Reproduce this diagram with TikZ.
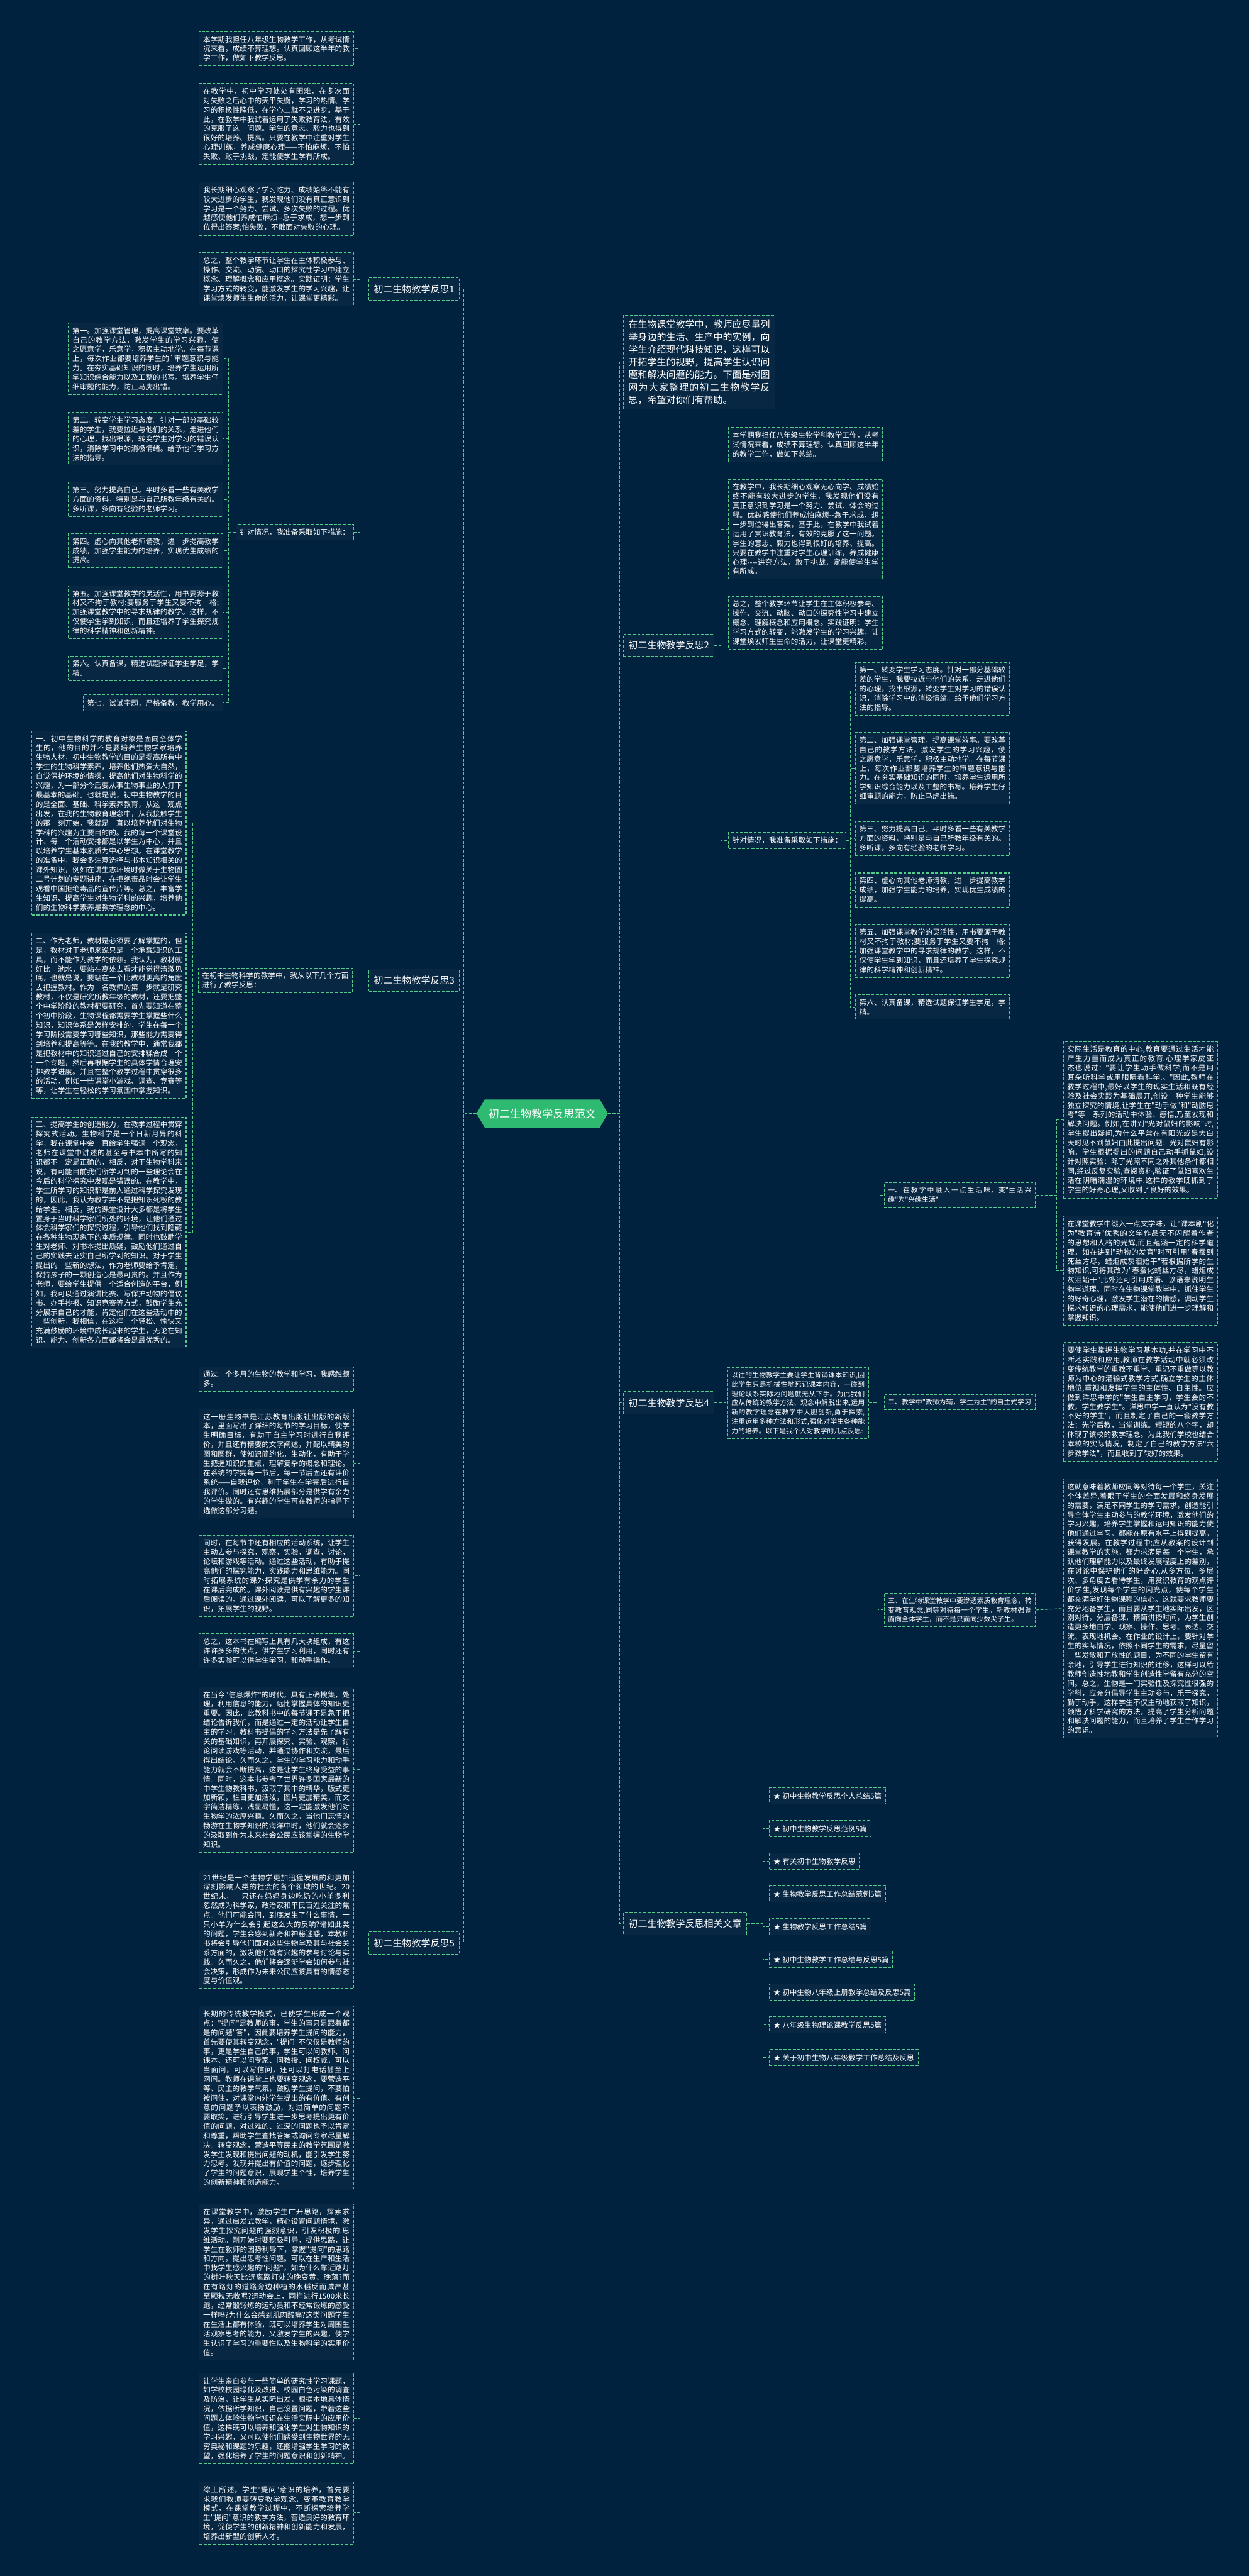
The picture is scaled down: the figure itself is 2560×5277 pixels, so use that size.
\documentclass[tikz,border=0pt]{standalone}
\usepackage{fontspec}
\setmainfont{Noto Sans CJK SC}[Ligatures=TeXOff]
\usepackage{tikz}
\usetikzlibrary{
  positioning,
  shapes.symbols,
  calc
}
\XeTeXlinebreaklocale "zh"
\XeTeXlinebreakskip=0pt plus 1pt
\setlength{\parindent}{0pt}
\definecolor{night}{RGB}{0,34,62}
\definecolor{cell}{RGB}{8,39,67}
\definecolor{mint}{RGB}{84,204,138}
\definecolor{leaf}{RGB}{46,186,112}
\newcommand{\bodyfont}{\fontsize{11.25pt}{14.4pt}\selectfont}
\newcommand{\smallbody}{\fontsize{10.5pt}{14.4pt}\selectfont}

\tikzset{
  note/.style={draw=mint, dash pattern=on 4.5pt off 2.5pt, line width=1pt, fill=cell, text=white, font=\bodyfont, text width=225pt, align=justify, inner xsep=6pt, inner ysep=6.5pt},
  stem/.style={draw=mint, dash pattern=on 4.5pt off 2.5pt, line width=1pt, fill=cell, text=white, font=\fontsize{14.5pt}{19.2pt}\selectfont, inner xsep=7.5pt, minimum height=34.5pt},
  tag/.style={draw=mint, dash pattern=on 4.5pt off 2.5pt, line width=1pt, fill=cell, text=white, font=\bodyfont, inner xsep=6pt, minimum height=24.75pt},
  link/.style={draw=mint, dash pattern=on 4.5pt off 2.5pt, line width=1pt}
}

\begin{document}
\begin{tikzpicture}[x=0.75pt, y=-0.75pt]
  \fill[night] (0,0) rectangle (2560,5277);
  \useasboundingbox (0,0) rectangle (2560,5277);

  % spines
  \coordinate (sL) at (950,0);
  \coordinate (sR) at (1270,0);
  \coordinate (sA) at (738,0);
  \coordinate (sB) at (468,0);
  \coordinate (sC) at (395,0);
  \coordinate (sF) at (1477,0);
  \coordinate (sG) at (1742,0);
  \coordinate (sM) at (1799,0);
  \coordinate (sI) at (2165,0);
  \coordinate (sK) at (1563,0);

  % root
  \node[signal, signal to=west and east, signal pointer angle=120, fill=leaf, text=white, font=\fontsize{16.5pt}{20pt}\selectfont, minimum height=43pt, inner xsep=6pt] (root) at (1111,2281) {初二生物教学反思范文};

  % left branches
  \node[stem, anchor=east] (b1) at (942,592) {初二生物教学反思1};
  \node[stem, anchor=east] (b3) at (942,2008) {初二生物教学反思3};
  \node[stem, anchor=east] (b5) at (942,3980) {初二生物教学反思5};

  % right branches
  \node[stem, anchor=west, text width=217.5pt, align=justify, inner ysep=7.5pt] (intro) at (1277,742) {在生物课堂教学中，教师应尽量列举身边的生活、生产中的实例，向学生介绍现代科技知识，这样可以开拓学生的视野，提高学生认识问题和解决问题的能力。下面是树图网为大家整理的初二生物教学反思，希望对你们有帮助。};
  \node[stem, anchor=west] (b2) at (1277,1322) {初二生物教学反思2};
  \node[stem, anchor=west] (b4) at (1277,2874) {初二生物教学反思4};
  \node[stem, anchor=west] (more) at (1277,3940) {初二生物教学反思相关文章};

  % reflection 1
  \node[note, anchor=east] (a1) at (725,100) {本学期我担任八年级生物教学工作，从考试情况来看，成绩不算理想。认真回顾这半年的教学工作，做如下教学反思。};
  \node[note, anchor=east] (a2) at (725,254) {在教学中，初中学习处处有困难，在多次面对失败之后心中的天平失衡，学习的热情、学习的积极性降低，在学心上就不见进步。基于此，在教学中我试着运用了失败教育法，有效的克服了这一问题。学生的意志、毅力也得到很好的培养、提高。只要在教学中注重对学生心理训练，养成健康心理——不怕麻烦、不怕失败、敢于挑战，定能使学生学有所成。};
  \node[note, anchor=east] (a3) at (725,428) {我长期细心观察了学习吃力、成绩始终不能有较大进步的学生，我发现他们没有真正意识到学习是一个努力、尝试、多次失败的过程。优越感使他们养成怕麻烦--急于求成，想一步到位得出答案;怕失败，不敢面对失败的心理。};
  \node[note, anchor=east] (a4) at (725,572) {总之，整个教学环节让学生在主体积极参与、操作、交流、动脑、动口的探究性学习中建立概念、理解概念和应用概念。实践证明：学生学习方式的转变，能激发学生的学习兴趣，让课堂焕发师生生命的活力，让课堂更精彩。};
  \node[tag, anchor=east] (aplan) at (725,1090) {针对情况，我准备采取如下措施：};

  \node[note, anchor=east] (p1) at (457,735) {第一。加强课堂管理，提高课堂效率。要改革自己的教学方法，激发学生的学习兴趣，使之愿意学，乐意学，积极主动地学。在每节课上，每次作业都要培养学生的`审题意识与能力。在夯实基础知识的同时，培养学生运用所学知识综合能力以及工整的书写。培养学生仔细审题的能力，防止马虎出错。};
  \node[note, anchor=east] (p2) at (457,899) {第二。转变学生学习态度。针对一部分基础较差的学生，我要拉近与他们的关系，走进他们的心理，找出根源，转变学生对学习的错误认识，消除学习中的消极情绪。给予他们学习方法的指导。};
  \node[note, anchor=east] (p3) at (457,1023) {第三。努力提高自己。平时多看一些有关教学方面的资料，特别是与自己所教年级有关的。多听课，多向有经验的老师学习。};
  \node[note, anchor=east] (p4) at (457,1128) {第四。虚心向其他老师请教，进一步提高教学成绩，加强学生能力的培养，实现优生成绩的提高。};
  \node[note, anchor=east] (p5) at (457,1254) {第五。加强课堂教学的灵活性，用书要源于教材又不拘于教材;要服务于学生又要不拘一格;加强课堂教学中的寻求规律的教学。这样，不仅使学生学到知识，而且还培养了学生探究规律的科学精神和创新精神。};
  \node[note, anchor=east] (p6) at (457,1369) {第六。认真备课，精选试题保证学生学足，学精。};
  \node[tag, anchor=east] (p7) at (457,1440) {第七。试试字题，严格备教，教学用心。};

  % reflection 3
  \node[note, anchor=east] (cmain) at (723,2008) {在初中生物科学的教学中，我从以下几个方面进行了教学反思：};
  \node[note, anchor=east] (c1) at (382,1686) {一、初中生物科学的教育对象是面向全体学生的，他的目的并不是要培养生物学家培养生物人材，初中生物教学的目的是提高所有中学生的生物科学素养，培养他们热爱大自然，自觉保护环境的情操，提高他们对生物科学的兴趣，为一部分今后要从事生物事业的人打下最基本的基础。也就是说，初中生物教学的目的是全面、基础、科学素养教育，从这一观点出发，在我的生物教育理念中，从我接触学生的那一刻开始，我就是一直以培养他们对生物学科的兴趣为主要目的的。我的每一个课堂设计、每一个活动安排都是以学生为中心，并且以培养学生基本素质为中心思想。在课堂教学的准备中，我会多注意选择与书本知识相关的课外知识，例如在讲生态环境时做关于生物圈二号计划的专题讲座，在拒绝毒品时会让学生观看中国拒绝毒品的宣传片等。总之，丰富学生知识、提高学生对生物学科的兴趣，培养他们的生物科学素养是教学理念的中心。};
  \node[note, anchor=east] (c2) at (382,2081) {二、作为老师，教材是必须要了解掌握的，但是，教材对于老师来说只是一个承载知识的工具，而不能作为教学的依赖。我认为，教材就好比一池水，要站在高处去看才能觉得清澈见底，也就是说，要站在一个比教材更高的角度去把握教材。作为一名教师的第一步就是研究教材，不仅是研究所教年级的教材，还要把整个中学阶段的教材都要研究，首先要知道在整个初中阶段，生物课程都需要学生掌握些什么知识，知识体系是怎样安排的，学生在每一个学习阶段需要学习哪些知识，那些能力需要得到培养和提高等等。在我的教学中，通常我都是把教材中的知识通过自己的安排糅合成一个一个专题，然后再根据学生的具体学情合理安排教学进度。并且在整个教学过程中贯穿很多的活动，例如一些课堂小游戏、调查、竞赛等等，让学生在轻松的学习氛围中掌握知识。};
  \node[note, anchor=east] (c3) at (382,2525) {三、提高学生的创造能力，在教学过程中贯穿探究式活动。生物科学是一个日新月异的科学，我在课堂中会一直给学生强调一个观念，老师在课堂中讲述的甚至与书本中所写的知识都不一定是正确的，相反，对于生物学科来说，有可能目前我们所学习到的一些理论会在今后的科学探究中发现是错误的。在教学中，学生所学习的知识都是前人通过科学探究发现的，因此，我认为教学并不是把知识死板的教给学生。相反，我的课堂设计大多都是将学生置身于当时科学家们所处的环境，让他们通过体会科学家们的探究过程，引导他们找到隐藏在各种生物现象下的本质规律。同时也鼓励学生对老师、对书本提出质疑，鼓励他们通过自己的实践去证实自己所学到的知识。对于学生提出的一些新的想法，作为老师要给予肯定，保持孩子的一颗创造心是最可贵的。并且作为老师，要给学生提供一个适合创造的平台，例如，我可以通过演讲比赛、写保护动物的倡议书、办手抄报、知识竞赛等方式，鼓励学生充分展示自己的才能，肯定他们在这些活动中的一些创新，我相信，在这样一个轻松、愉快又充满鼓励的环境中成长起来的学生，无论在知识、能力、创新各方面都将会是最优秀的。};

  % reflection 5
  \node[note, anchor=east] (d1) at (725,2825) {通过一个多月的生物的教学和学习，我感触颇多。};
  \node[note, anchor=east] (d2) at (725,2998) {这一册生物书是江苏教育出版社出版的新版本，里面写出了详细的每节的学习目标，使学生明确目标，有助于自主学习时进行自我评价，并且还有精要的文字阐述，并配以精美的图和图群，使知识简约化，生动化，有助于学生把握知识的重点，理解复杂的概念和理论。在系统的学完每一节后，每一节后面还有评价系统——自我评价，利于学生在学完后进行自我评价。同时还有思维拓展部分是供学有余力的学生做的。有兴趣的学生可在教师的指导下选做这部分习题。};
  \node[note, anchor=east] (d3) at (725,3228) {同时，在每节中还有相应的活动系统，让学生主动去参与探究，观察，实验，调查，讨论，论坛和游戏等活动。通过这些活动，有助于提高他们的探究能力，实践能力和思维能力。同时拓展系统的课外探究是供学有余力的学生在课后完成的。课外阅读是供有兴趣的学生课后阅读的。通过课外阅读，可以了解更多的知识，拓展学生的视野。};
  \node[note, anchor=east] (d4) at (725,3382) {总之，这本书在编写上具有几大块组成，有这许许多多的优点，供学生学习利用，同时还有许多实验可以供学生学习，和动手操作。};
  \node[note, anchor=east] (d5) at (725,3625) {在当今"信息爆炸"的时代，具有正确搜集，处理，利用信息的能力，远比掌握具体的知识更重要。因此，此教科书中的每节课不是急于把结论告诉我们，而是通过一定的活动让学生自主的学习。教科书提倡的学习方法是先了解有关的基础知识，再开展探究、实验、观察，讨论阅读游戏等活动，并通过协作和交流，最后得出结论。久而久之，学生的学习能力和动手能力就会不断提高，这是让学生终身受益的事情。同时，这本书参考了世界许多国家最新的中学生物教科书，汲取了其中的精华，版式更加新颖，栏目更加活泼，图片更加精美，而文字简洁精练，浅显易懂，这一定能激发他们对生物学的浓厚兴趣。久而久之，当他们忘情的畅游在生物学知识的海洋中时，他们就会逐步的汲取到作为未来社会公民应该掌握的生物学知识。};
  \node[note, anchor=east] (d6) at (725,3952) {21世纪是一个生物学更加迅猛发展的和更加深刻影响人类的社会的各个领域的世纪。20世纪末，一只还在妈妈身边吃奶的小羊多利忽然成为科学家，政治家和平民百姓关注的焦点。他们可能会问，到底发生了什么事情，一只小羊为什么会引起这么大的反响?诸如此类的问题，学生会感到新奇和神秘迷惑，本教科书将会引导他们面对这些生物学及其与社会关系方面的，激发他们饶有兴趣的参与讨论与实践。久而久之，他们将会逐渐学会如何参与社会决策，形成作为未来公民应该具有的情感态度与价值观。};
  \node[note, anchor=east] (d7) at (725,4298) {长期的传统教学模式，已使学生形成一个观点："提问"是教师的事，学生的事只是跟着都是的问题"答"，因此要培养学生提问的能力，首先要使其转变观念，"提问"不仅仅是教师的事，更是学生自己的事，学生可以问教师、问课本、还可以问专家、问教授、问权威，可以当面问，可以写信问，还可以打电话甚至上网问。教师在课堂上也要转变观念，要营造平等、民主的教学气氛，鼓励学生提问，不要怕被问住，对课堂内外学生提出的有价值、有创意的问题予以表扬鼓励，对过简单的问题不要取笑，进行引导学生进一步思考提出更有价值的问题，对过难的、过深的问题也予以肯定和尊重，帮助学生查找答案或询问专家尽量解决。转变观念，营造平等民主的教学氛围是激发学生发现和提出问题的动机，能引发学生努力思考，发现并提出有价值的问题，逐步强化了学生的问题意识，展现学生个性，培养学生的创新精神和创造能力。};
  \node[note, anchor=east] (d8) at (725,4675) {在课堂教学中，激励学生广开思路，探索求异，通过启发式教学，精心设置问题情境，激发学生探究问题的强烈意识，引发积极的.思维活动。刚开始时要积极引导，提供思路，让学生在教师的因势利导下，掌握"提问"的思路和方向，提出思考性问题。可以在生产和生活中找学生感兴趣的"问题"，如为什么靠近路灯的树叶秋天比远离路灯处的晚变黄、晚落?而在有路灯的道路旁边种植的水稻反而减产甚至颗粒无收呢?运动会上，同样进行1500米长跑，经常锻锻炼的运动员和不经常锻炼的感受一样吗?为什么会感到肌肉酸痛?这类问题学生在生活上都有体验，既可以培养学生对周围生活观察思考的能力，又激发学生的兴趣，使学生认识了学习的重要性以及生物科学的实用价值。};
  \node[note, anchor=east] (d9) at (725,4954) {让学生亲自参与一些简单的研究性学习课题，如学校校园绿化及改进、校园白色污染的调查及防治，让学生从实际出发，根据本地具体情况，依据所学知识，自己设置问题，带着这些问题去体验生物学知识在生活实际中的应用价值，这样既可以培养和强化学生对生物知识的学习兴趣，又可以使他们感受到生物世界的无穷奥秘和课题的乐趣，还能增强学生学习的欲望，强化培养了学生的问题意识和创新精神。};
  \node[note, anchor=east] (d10) at (725,5148) {综上所述，学生"提问"意识的培养，首先要求我们教师要转变教学观念，变革教育教学模式，在课堂教学过程中，不断探索培养学生"提问"意识的教学方法，营造良好的教育环境，促使学生的创新精神和创新能力和发展，培养出新型的创新人才。};

  % reflection 2
  \node[note, anchor=west] (f1) at (1492,911) {本学期我担任八年级生物学科教学工作，从考试情况来看，成绩不算理想。认真回顾这半年的教学工作，做如下总结。};
  \node[note, anchor=west] (f2) at (1492,1084) {在教学中，我长期细心观察无心向学、成绩始终不能有较大进步的学生，我发现他们没有真正意识到学习是一个努力、尝试、体会的过程。优越感使他们养成怕麻烦--急于求成，想一步到位得出答案，基于此，在教学中我试着运用了赏识教育法，有效的克服了这一问题。学生的意志、毅力也得到很好的培养、提高。只要在教学中注重对学生心理训练，养成健康心理----讲究方法，敢于挑战，定能使学生学有所成。};
  \node[note, anchor=west] (f3) at (1492,1276) {总之，整个教学环节让学生在主体积极参与、操作、交流、动脑、动口的探究性学习中建立概念、理解概念和应用概念。实践证明：学生学习方式的转变，能激发学生的学习兴趣，让课堂焕发师生生命的活力，让课堂更精彩。};
  \node[tag, anchor=west] (fplan) at (1492,1722) {针对情况，我准备采取如下措施：};

  \node[note, anchor=west] (g1) at (1752,1411) {第一、转变学生学习态度。针对一部分基础较差的学生，我要拉近与他们的关系，走进他们的心理，找出根源，转变学生对学习的错误认识，消除学习中的消极情绪。给予他们学习方法的指导。};
  \node[note, anchor=west] (g2) at (1752,1574) {第二、加强课堂管理，提高课堂效率。要改革自己的教学方法，激发学生的学习兴趣，使之愿意学，乐意学，积极主动地学。在每节课上，每次作业都要培养学生的审题意识与能力。在夯实基础知识的同时，培养学生运用所学知识综合能力以及工整的书写。培养学生仔细审题的能力，防止马虎出错。};
  \node[note, anchor=west] (g3) at (1752,1718) {第三、努力提高自己。平时多看一些有关教学方面的资料，特别是与自己所教年级有关的。多听课，多向有经验的老师学习。};
  \node[note, anchor=west] (g4) at (1752,1823) {第四、虚心向其他老师请教，进一步提高教学成绩，加强学生能力的培养，实现优生成绩的提高。};
  \node[note, anchor=west] (g5) at (1752,1948) {第五、加强课堂教学的灵活性，用书要源于教材又不拘于教材;要服务于学生又要不拘一格;加强课堂教学中的寻求规律的教学。这样，不仅使学生学到知识，而且还培养了学生探究规律的科学精神和创新精神。};
  \node[note, anchor=west] (g6) at (1752,2063) {第六、认真备课，精选试题保证学生学足，学精。};

  % reflection 4
  \node[note, anchor=west, font=\smallbody, text width=204.75pt] (h) at (1490,2874) {以往的生物教学主要让学生背诵课本知识,因此学生只是机械性地死记课本内容，一碰到理论联系实际地问题就无从下手。为此我们应从传统的教学方法、观念中解脱出来,运用新的教学理念在教学中大胆创新,勇于探索,注重运用多种方法和形式,强化对学生各种能力的培养。以下是我个人对教学的几点反思:};
  \node[note, anchor=west, font=\smallbody, text width=220.5pt] (m1) at (1811,2448) {一、在教学中融入一点生活味，变"生活兴趣"为"兴趣生活"};
  \node[note, anchor=west, font=\smallbody, text width=220.5pt] (m2) at (1811,2872) {二、教学中"教师为辅，学生为主"的自主式学习};
  \node[note, anchor=west, font=\smallbody, text width=220.5pt] (m3) at (1811,3298) {三、在生物课堂教学中要渗透素质教育理念，转变教育观念,同等对待每一个学生。新教材强调面向全体学生，而不是只面向少数尖子生。};

  \node[note, anchor=west] (i1) at (2178,2294) {实际生活是教育的中心,教育要通过生活才能产生力量而成为真正的教育.心理学家皮亚杰也说过："要让学生动手做科学,而不是用耳朵听科学或用眼睛看科学.。"因此,教师在教学过程中,最好以学生的现实生活和既有经验及社会实践为基础展开,创设一种学生能够独立探究的情境,让学生在"动手做"和"动脑思考"等一系列的活动中体验、感悟,乃至发现和解决问题。例如,在讲到"光对鼠妇的影响"时,学生提出疑问,为什么平常在有阳光或是大白天时见不到鼠妇由此提出问题：光对鼠妇有影响。学生根据提出的问题自己动手抓鼠妇,设计对照实验：除了光照不同之外其他条件都相同,经过反复实验,查阅资料,验证了鼠妇喜欢生活在阴暗潮湿的环境中.这样的教学既抓到了学生的好奇心理,又收到了良好的效果。};
  \node[note, anchor=west] (i2) at (2178,2603) {在课堂教学中缀入一点文学味，让"课本剧"化为"教育诗"优秀的文学作品无不闪耀着作者的思想和人格的光辉,而且蕴涵一定的科学道理。如在讲到"动物的发育"时可引用"春蚕到死丝方尽，蜡炬成灰泪始干"若根据所学的生物知识,可将其改为"春蚕化蛹丝方尽，蜡炬成灰泪始干"此外还可引用成语、谚语来说明生物学道理。同时在生物课堂教学中，抓住学生的好奇心理，激发学生潜在的情感，调动学生探求知识的心理需求，能使他们进一步理解和掌握知识。};
  \node[note, anchor=west] (i3) at (2178,2872) {要使学生掌握生物学习基本功,并在学习中不断地实践和应用,教师在教学活动中就必须改变传统教学的重教不重学、重记不重做等以教师为中心的灌输式教学方式,确立学生的主体地位,重视和发挥学生的主体性、自主性。应做到洋思中学的"学生自主学习，学生会的不教，学生教学生"。洋思中学一直认为"没有教不好的学生"，而且制定了自己的一套教学方法：先学后教，当堂训练。短短的八个字，却体现了该校的教学理念。为此我们学校也结合本校的实际情况，制定了自己的教学方法"六步教学法"，而且收到了较好的效果。};
  \node[note, anchor=west] (i4) at (2178,3295) {这就意味着教师应同等对待每一个学生，关注个体差异,着眼于学生的全面发展和终身发展的需要，满足不同学生的学习需求，创造能引导全体学生主动参与的教学环境，激发他们的学习兴趣，培养学生掌握和运用知识的能力使他们通过学习，都能在原有水平上得到提高，获得发展。在教学过程中;应从教案的设计到课堂教学的实施，都力求满足每一个学生，承认他们理解能力以及最终发展程度上的差别，在讨论中保护他们的好奇心,从多方位、多层次、多角度去看待学生，用赏识教育的观点评价学生,发现每个学生的闪光点，使每个学生都充满学好生物课程的信心。这就要求教师要充分地备学生，而且要从学生地实际出发，区别对待，分层备课，精简讲授时间，为学生创造更多地自学、观察、操作、思考、表达、交流、表现地机会。在作业的设计上，要针对学生的实际情况，依照不同学生的需求，尽量留一些发散和开放性的题目，为不同的学生留有余地，引导学生进行知识的迁移，这样可以给教师创造性地教和学生创造性学留有充分的空间。总之，生物是一门实验性及探究性很强的学科，应充分倡导学生主动参与，乐于探究，勤于动手，这样学生不仅主动地获取了知识，领悟了科学研究的方法，提高了学生分析问题和解决问题的能力，而且培养了学生合作学习的意识。};

  % related articles
  \foreach \t [count=\k from 0] in {初中生物教学反思个人总结5篇, 初中生物教学反思范例5篇, 有关初中生物教学反思, 生物教学反思工作总结范例5篇, 生物教学反思工作总结5篇, 初中生物教学工作总结与反思5篇, 初中生物八年级上册教学总结及反思5篇, 八年级生物理论课教学反思5篇, 关于初中生物八年级教学工作总结及反思}
    \node[tag, anchor=west] (r\k) at (1576,3679+67*\k) {★\ \t};

  % connectors
  \foreach \n in {b1,b3,b5} \draw[link] (root.west) -- (root.west -| sL) |- (\n.east);
  \foreach \n in {intro,b2,b4,more} \draw[link] (root.east) -- (root.east -| sR) |- (\n.west);
  \foreach \n in {a1,a2,a3,a4,aplan} \draw[link] (b1.west) -- (b1.west -| sA) |- (\n.east);
  \foreach \n in {p1,p2,p3,p4,p5,p6,p7} \draw[link] (aplan.west) -- (aplan.west -| sB) |- (\n.east);
  \draw[link] (b3.west) -- (cmain.east);
  \foreach \n in {c1,c2,c3} \draw[link] (cmain.west) -- (cmain.west -| sC) |- (\n.east);
  \foreach \n in {d1,d2,d3,d4,d5,d6,d7,d8,d9,d10} \draw[link] (b5.west) -- (b5.west -| sA) |- (\n.east);
  \foreach \n in {f1,f2,f3,fplan} \draw[link] (b2.east) -- (b2.east -| sF) |- (\n.west);
  \foreach \n in {g1,g2,g3,g4,g5,g6} \draw[link] (fplan.east) -- (fplan.east -| sG) |- (\n.west);
  \draw[link] (b4.east) -- (h.west);
  \foreach \n in {m1,m2,m3} \draw[link] (h.east) -- (h.east -| sM) |- (\n.west);
  \foreach \n in {i1,i2} \draw[link] (m1.east) -- (m1.east -| sI) |- (\n.west);
  \draw[link] (m2.east) -- (i3.west);
  \draw[link] (m3.east) -- (i4.west);
  \foreach \k in {0,...,8} \draw[link] (more.east) -- (more.east -| sK) |- (r\k.west);
\end{tikzpicture}
\end{document}
